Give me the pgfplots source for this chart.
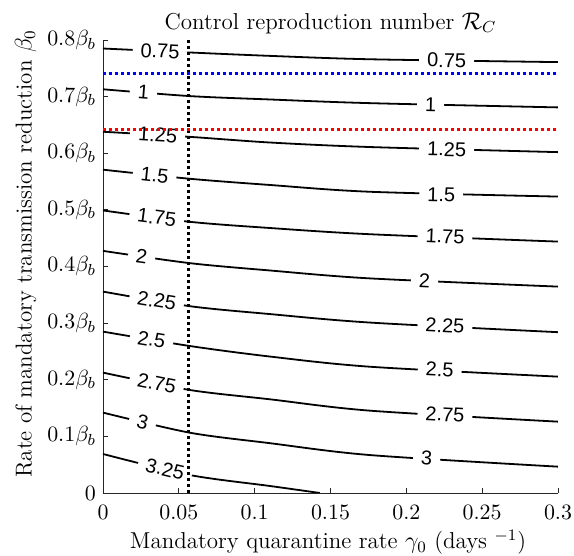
\documentclass[border=0pt]{standalone}
\usepackage{fontspec}
\usepackage{pgfplots}
\pgfplotsset{compat=1.18}
\newfontfamily\labfont{Liberation Sans}
\definecolor{axgray}{rgb}{0.15,0.15,0.15}
\begin{document}
\begin{tikzpicture}
\begin{axis}[
  scale only axis, width=227.5pt, height=226.5pt,
  xmin=0, xmax=0.3, ymin=0, ymax=0.8,
  axis x line*=bottom, axis y line*=left,
  axis line style={-, draw=axgray, line width=0.4pt},
  tick align=inside, major tick length=2.5pt,
  tick style={draw=axgray, line width=0.4pt},
  xtick={0,0.05,0.1,0.15,0.2,0.25,0.3},
  xticklabels={$0$,$0.05$,$0.1$,$0.15$,$0.2$,$0.25$,$0.3$},
  ytick={0,0.1,0.2,0.3,0.4,0.5,0.6,0.7,0.8},
  yticklabels={$0$,$0.1\beta_b$,$0.2\beta_b$,$0.3\beta_b$,$0.4\beta_b$,$0.5\beta_b$,$0.6\beta_b$,$0.7\beta_b$,$0.8\beta_b$},
  tick label style={font=\fontsize{11}{13}\selectfont},
  xticklabel style={yshift=-2.5pt},
  every axis title shift=0pt,
  title={Control reproduction number $\mathcal{R}_C$},
  title style={font=\fontsize{11.5}{14}\selectfont, at={(axis description cs:0.5,1.0236)}, anchor=base},
  xlabel={Mandatory quarantine rate $\gamma_0$ (days $^{-1}$)},
  xlabel style={font=\fontsize{11.5}{14}\selectfont, at={(axis description cs:0.4945,-0.1236)}, anchor=base},
  ylabel={Rate of mandatory transmission reduction $\beta_0$},
  ylabel style={font=\fontsize{11.5}{14}\selectfont, at={(axis description cs:-0.157,0.5276)}, anchor=base, rotate=0},
  clip=true,
]
% contour lines
\addplot[black, line width=0.9pt, smooth] coordinates {(0,0.785) (0.057,0.778) (0.110,0.772) (0.176,0.766) (0.3,0.761)};
\addplot[black, line width=0.9pt, smooth] coordinates {(0,0.713) (0.057,0.701) (0.110,0.695) (0.176,0.6885) (0.3,0.681)};
\addplot[black, line width=0.9pt, smooth] coordinates {(0,0.638) (0.057,0.629) (0.110,0.619) (0.176,0.611) (0.3,0.602)};
\addplot[black, line width=0.9pt, smooth] coordinates {(0,0.571) (0.057,0.555) (0.110,0.544) (0.176,0.532) (0.3,0.5235)};
\addplot[black, line width=0.9pt, smooth] coordinates {(0,0.499) (0.057,0.479) (0.110,0.468) (0.176,0.457) (0.3,0.444)};
\addplot[black, line width=0.9pt, smooth] coordinates {(0,0.4276) (0.057,0.406) (0.110,0.393) (0.176,0.379) (0.3,0.3645)};
\addplot[black, line width=0.9pt, smooth] coordinates {(0,0.3557) (0.057,0.330) (0.110,0.316) (0.176,0.301) (0.3,0.284)};
\addplot[black, line width=0.9pt, smooth] coordinates {(0,0.285) (0.057,0.2597) (0.110,0.241) (0.176,0.223) (0.3,0.2055)};
\addplot[black, line width=0.9pt, smooth] coordinates {(0,0.2126) (0.057,0.182) (0.110,0.1655) (0.176,0.1454) (0.3,0.126)};
\addplot[black, line width=0.9pt, smooth] coordinates {(0,0.142) (0.057,0.1066) (0.110,0.0880) (0.176,0.067) (0.3,0.0465)};
\addplot[black, line width=0.9pt, smooth] coordinates {(0,0.0689) (0.057,0.0318) (0.110,0.0124) (0.143,0)};
% contour labels
\tikzset{lab/.style={fill=white, inner xsep=4pt, inner ysep=0.5pt, font=\labfont\fontsize{10}{12}\selectfont}}
\node[lab, rotate=-2.6] at (axis cs:0.0376,0.7804) {0.75};
\node[lab, rotate=-4.5] at (axis cs:0.0266,0.7074) {1};
\node[lab, rotate=-3.4] at (axis cs:0.0360,0.6323) {1.25};
\node[lab, rotate=-6.0] at (axis cs:0.0340,0.5615) {1.5};
\node[lab, rotate=-7.5] at (axis cs:0.0354,0.4866) {1.75};
\node[lab, rotate=-8.0] at (axis cs:0.0255,0.4180) {2};
\node[lab, rotate=-9.5] at (axis cs:0.0354,0.3398) {2.25};
\node[lab, rotate=-9.4] at (axis cs:0.0320,0.2708) {2.5};
\node[lab, rotate=-11.3] at (axis cs:0.0354,0.1936) {2.75};
\node[lab, rotate=-13.0] at (axis cs:0.0261,0.1258) {3};
\node[lab, rotate=-13.6] at (axis cs:0.0409,0.0423) {3.25};
\node[lab, rotate=-0.9] at (axis cs:0.2266,0.7640) {0.75};
\node[lab, rotate=-1.3] at (axis cs:0.2160,0.6860) {1};
\node[lab, rotate=-1.5] at (axis cs:0.2266,0.6070) {1.25};
\node[lab, rotate=-1.5] at (axis cs:0.2230,0.5270) {1.5};
\node[lab, rotate=-2.4] at (axis cs:0.2255,0.4530) {1.75};
\node[lab, rotate=-2.5] at (axis cs:0.2120,0.3750) {2};
\node[lab, rotate=-2.9] at (axis cs:0.2255,0.2955) {2.25};
\node[lab, rotate=-3.0] at (axis cs:0.2220,0.2175) {2.5};
\node[lab, rotate=-3.3] at (axis cs:0.2255,0.1390) {2.75};
\node[lab, rotate=-3.5] at (axis cs:0.2134,0.0610) {3};
% dotted reference lines
\addplot[black, line width=1.5pt, dash pattern=on 1.5pt off 1.5pt] coordinates {(0.0567,0) (0.0567,0.8)};
\addplot[blue, line width=1.5pt, dash pattern=on 1.5pt off 1.5pt] coordinates {(0,0.7415) (0.3,0.7415)};
\addplot[red, line width=1.5pt, dash pattern=on 1.5pt off 1.5pt] coordinates {(0,0.6413) (0.3,0.6413)};
\end{axis}
\pgfresetboundingbox
\path[use as bounding box] (current axis.south west) ++(-51.5pt,-31.5pt) rectangle ++(287pt,278pt);
\end{tikzpicture}
\end{document}
